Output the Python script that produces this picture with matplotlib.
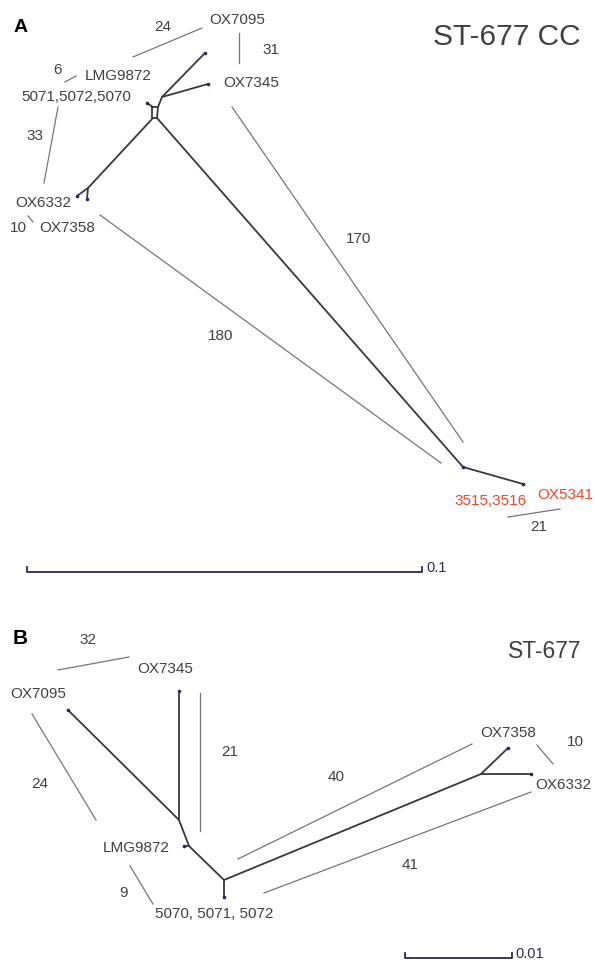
import matplotlib.pyplot as plt

plt.rcParams['font.family'] = ['Liberation Sans', 'DejaVu Sans']

# ---- panel A (ST-677 CC) network, pixel coordinates ----
a_edges = [
    [(147, 103), (153, 107)],
    [(152, 107), (158, 107), (157, 118), (152, 118), (152, 107)],
    [(158, 107), (162, 97), (205, 53)],
    [(162, 97), (208, 84)],
    [(153, 118), (88, 188), (77, 196)],
    [(88, 188), (87, 199)],
    [(157, 118), (463, 467), (523, 484)],
]
a_tips = [(205, 53), (208, 84), (77, 196), (87, 199), (463, 467), (523, 484), (147, 103)]
a_leaders = [
    [(133, 57), (202, 28)],
    [(239, 33), (239, 63)],
    [(65, 82), (76, 76)],
    [(58, 107), (44, 183)],
    [(28, 216), (33, 222)],
    [(232, 107), (463, 442)],
    [(100, 215), (441, 463)],
    [(508, 517), (560, 509)],
]
a_labels = [
    ('OX7095', 237, 20), ('24', 163, 27), ('31', 271, 50),
    ('6', 57, 70), ('LMG9872', 118, 76), ('5071,5072,5070', 76, 97),
    ('OX7345', 251, 83), ('33', 35, 136), ('OX6332', 43, 203),
    ('10', 18, 228), ('OX7358', 67, 228), ('170', 359, 239),
    ('180', 221, 336), ('21', 539, 527),
]
a_red = [('3515,3516', 491, 501), ('OX5341', 565, 495)]

# ---- panel B (ST-677) network ----
b_edges = [
    [(68, 710), (179, 820), (189, 846), (224, 880), (481, 774), (508, 748)],
    [(179, 691), (179, 820)],
    [(189, 846), (184, 846)],
    [(224, 880), (224, 897)],
    [(481, 774), (531, 774)],
]
b_tips = [(68, 710), (179, 691), (184, 846), (224, 897), (508, 748), (531, 774)]
b_leaders = [
    [(58, 670), (129, 657)],
    [(32, 714), (96, 820)],
    [(200, 693), (200, 831)],
    [(130, 866), (153, 904)],
    [(238, 859), (472, 744)],
    [(264, 893), (531, 792)],
    [(537, 745), (553, 764)],
]
b_labels = [
    ('32', 88, 640), ('OX7345', 165, 669), ('OX7095', 38, 694),
    ('24', 40, 784), ('21', 230, 752), ('LMG9872', 136, 848),
    ('9', 124, 893), ('5070, 5071, 5072', 214, 914),
    ('OX7358', 508, 733), ('10', 575, 742), ('OX6332', 563, 785),
    ('40', 336, 777), ('41', 410, 865),
]

dark = '#404040'
navy = '#2a2a55'

fig = plt.figure(figsize=(5.95, 9.64), dpi=100)
ax = fig.add_axes([0, 0, 1, 1])
ax.set_xlim(0, 595)
ax.set_ylim(964, 0)
ax.axis('off')


def draw_panel(edges, tips, leaders, labels):
    for e in edges:
        xs, ys = zip(*e)
        ax.plot(xs, ys, color='#38383f', lw=1.3, solid_capstyle='round')
    xs, ys = zip(*tips)
    ax.plot(xs, ys, 'o', ms=1.6, color=navy, ls='none')
    for l in leaders:
        xs, ys = zip(*l)
        ax.plot(xs, ys, color='#767676', lw=0.9)
    for t, x, y in labels:
        ax.text(x, y, t, fontsize=11, color=dark, ha='center', va='center')


draw_panel(a_edges, a_tips, a_leaders, a_labels)
for t, x, y in a_red:
    ax.text(x, y, t, fontsize=11, color='#f0462a', ha='center', va='center')
draw_panel(b_edges, b_tips, b_leaders, b_labels)

# panel letters and titles
ax.text(21, 27, 'A', fontsize=14, fontweight='bold', color='black', ha='center', va='center')
ax.text(20, 639, 'B', fontsize=15, fontweight='bold', color='black', ha='center', va='center')
ax.text(507, 37, 'ST-677 CC', fontsize=21.5, color=dark, ha='center', va='center')
ax.text(545, 652, 'ST-677', fontsize=16.5, color=dark, ha='center', va='center')

# scale bars
ax.plot([27, 27, 422, 422], [567, 572, 572, 567], color=navy, lw=1.3)
ax.text(426, 568, '0.1', fontsize=10.5, color=navy, ha='left', va='center')
ax.plot([405, 405, 512, 512], [953, 958, 958, 953], color=navy, lw=1.3)
ax.text(515, 954, '0.01', fontsize=10.5, color=navy, ha='left', va='center')

fig.savefig('out.png', dpi=100)
